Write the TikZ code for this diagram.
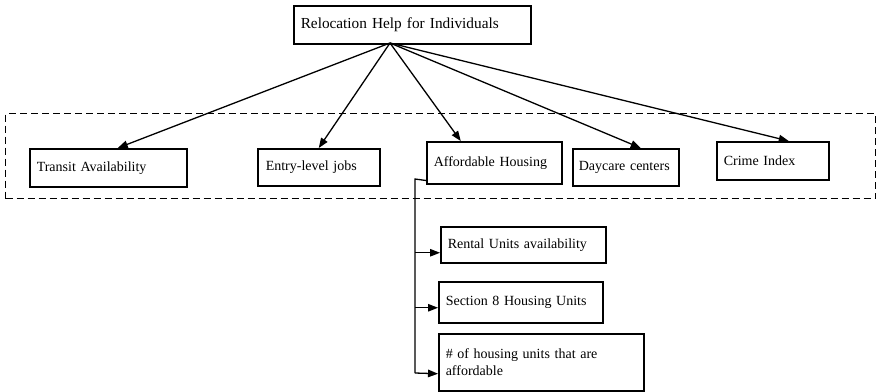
\documentclass[tikz,border=0pt]{standalone}
\usepackage{fontspec}
\setmainfont{Liberation Serif}
\usetikzlibrary{arrows.meta}
\begin{document}
\begin{tikzpicture}[x=1pt,y=-1pt,
  box/.style={draw, line width=1.5pt, anchor=north west, align=left,
    inner xsep=7pt, inner ysep=0pt, font=\fontsize{14}{16}\selectfont},
  link/.style={line width=1.3pt, -{Triangle[length=10pt,width=7.5pt]}},
  group/.style={draw, dashed, line width=1.1pt, dash pattern=on 7pt off 4pt,
    anchor=north west, inner sep=0pt}]
\useasboundingbox (0,0) rectangle (877,391);

% dashed frame around the first-level factors
\node[group, minimum width=870pt, minimum height=85pt] (frame) at (5,113) {};

% root
\node[box, minimum width=237pt, minimum height=38pt, text width=223pt, font=\fontsize{15.3}{17}\selectfont] (root) at (293,5) {Relocation Help for Individuals};

% first level
\node[box, minimum width=157pt, minimum height=38pt, text width=143pt] (transit) at (29,148) {Transit Availability};
\node[box, minimum width=121pt, minimum height=37pt, text width=106pt, inner xsep=8pt] (jobs) at (257,148) {Entry-level jobs};
\node[box, minimum width=135pt, minimum height=42pt, text width=121pt] (afford) at (426,141) {Affordable Housing};
\node[box, minimum width=106pt, minimum height=37pt, text width=94pt, inner xsep=6pt] (daycare) at (572,148) {\raisebox{-3pt}{Daycare centers}};
\node[box, minimum width=112pt, minimum height=38pt, text width=98pt] (crime) at (716,141) {Crime Index};

% second level under housing
\node[box, minimum width=165pt, minimum height=36pt, text width=151pt] (rental) at (440,226) {Rental Units availability};
\node[box, minimum width=164pt, minimum height=41pt, text width=150pt] (sect) at (438,281) {Section 8 Housing Units};
\node[box, minimum width=205pt, minimum height=57pt, text width=191pt, font=\fontsize{14}{17}\selectfont] (units) at (438,333) {\# of housing units that are\\affordable};

% connectors from the root
\coordinate (src) at (390,43);
\draw[link] (src) -- ([xshift=9.5pt]transit.north);
\draw[link] (src) -- (jobs.north);
\draw[link] (src) -- ([xshift=-33.5pt]afford.north);
\draw[link] (src) -- ([xshift=15pt]daycare.north);
\draw[link] (src) -- ([xshift=16pt]crime.north);

% housing trunk and branches
\coordinate (stub) at ([yshift=4pt]afford.south west);
\coordinate (t0) at (415,179);
\coordinate (t1) at (415,373);
\coordinate (inR) at ([yshift=-8pt]rental.west);
\coordinate (inS) at ([yshift=-5.5pt]sect.west);
\coordinate (inU) at ([yshift=-11.5pt]units.west);
\draw[line width=1.3pt] (stub) -- (t0) -- (t1);
\draw[link] (t0 |- inR) -- (inR);
\draw[link] (t0 |- inS) -- (inS);
\draw[link] (t1) -- (inU);
\end{tikzpicture}
\end{document}
